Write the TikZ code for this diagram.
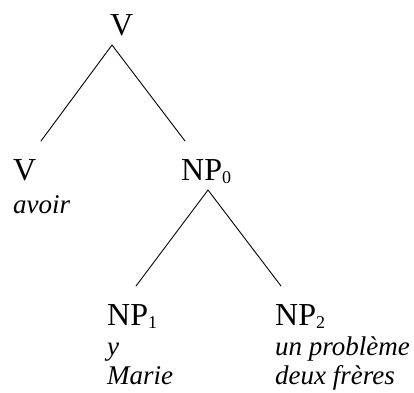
\documentclass[tikz,border=0pt]{standalone}
\usepackage{fontspec}
\setmainfont{Liberation Serif}
\newcommand\lowidx[1]{\raisebox{-3pt}{\fontsize{18}{18}\selectfont #1}}
\begin{document}
\begin{tikzpicture}[
  x=1pt, y=-1pt,
  line cap=round,
  cat/.style={anchor=base west, inner sep=0pt, font=\fontsize{32}{38}\selectfont},
  word/.style={anchor=base west, inner sep=0pt, font=\fontsize{27}{32}\selectfont\itshape},
  branch/.style={line width=0.9pt}
]
  \useasboundingbox (0,0) rectangle (414,392);

  % 节点
  \node[cat] (Vtop) at (110,35) {V};
  \node[cat] (Vleft) at (13,180) {V};
  \node[cat] (NP0) at (181,180) {NP\lowidx{0}};
  \node[cat] (NP1) at (107,325) {NP\lowidx{1}};
  \node[cat] (NP2) at (275,325) {NP\lowidx{2}};

  % 词项
  \node[word] (avoir) at (13,213) {avoir};
  \node[word] (y) at (107,355) {y};
  \node[word] (marie) at (107,384) {Marie};
  \node[word] (probleme) at (275,355) {un problème};
  \node[word] (freres) at (275,384) {deux frères};

  % 分支端点
  \coordinate (A) at (112,45);
  \coordinate (AL) at (41,141);
  \coordinate (AR) at (185,141);
  \coordinate (B) at (208,190);
  \coordinate (BL) at (136,286);
  \coordinate (BR) at (281,286);

  % 分支
  \draw[branch] (AL) -- (A) -- (AR);
  \draw[branch] (BL) -- (B) -- (BR);
\end{tikzpicture}
\end{document}
